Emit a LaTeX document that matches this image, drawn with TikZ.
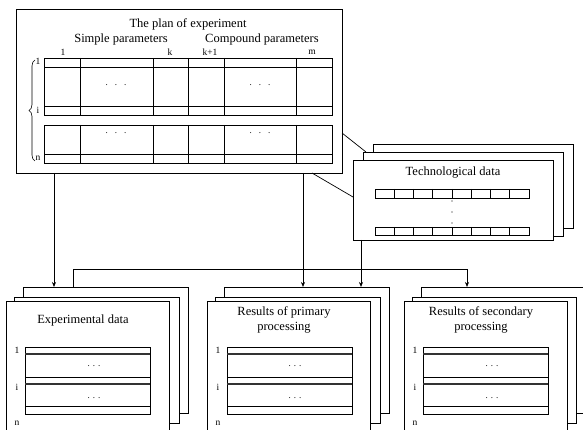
\documentclass[tikz,border=0pt]{standalone}
\usepackage{fontspec}
\setmainfont{Liberation Serif}
\usetikzlibrary{arrows.meta,decorations.pathreplacing}
\begin{document}
\begin{tikzpicture}[x=1pt,y=-1pt,
  frame/.style={draw, fill=white, line width=0.8pt, anchor=north west, inner sep=0pt, outer sep=0pt},
  ttl/.style={font=\fontsize{12.5}{14.5}\selectfont, align=center, inner sep=0pt},
  sm/.style={font=\fontsize{9.5}{11}\selectfont, inner sep=0pt},
  dt/.style={font=\fontsize{9}{10}\selectfont, inner sep=0pt},
  arr/.style={-{Stealth[length=5pt,width=4pt]}, line width=0.7pt},
  ln/.style={line width=0.7pt},
  grid/.style={line width=0.8pt},
  thk/.style={line width=1.5pt, draw=black!80}
]
\useasboundingbox (0,0) rectangle (583,430);
\clip (0,0) rectangle (583,430);

% ---------- plan of experiment ----------
\node[frame, minimum width=326pt, minimum height=164pt] (plan) at (16,9) {};
\node[ttl] (tplan) at (188,24) {The plan of experiment};
\node[ttl] (tsimple) at (121,39) {Simple parameters};
\node[ttl] (tcomp) at (262,39) {Compound parameters};
\node[sm] (c1) at (63,52) {1};
\node[sm] (ck) at (170,52) {k};
\node[sm] (ck1) at (210,52) {k+1};
\node[sm] (cm) at (312,52) {m};
% table block 1
\draw[grid] (44,58) rectangle (332,115);
\draw[grid] (44,67) -- (332,67) (44,106) -- (332,106);
% table block 2
\draw[grid] (44,125) rectangle (332,163);
\draw[grid] (44,154) -- (332,154);
\foreach \x in {80,153,188,224,296}{
  \draw[grid] (\x,58) -- (\x,115);
  \draw[grid] (\x,125) -- (\x,163);
}
\node[dt] (d1) at (116,85) {.\hspace{7pt}.\hspace{7pt}.};
\node[dt] (d2) at (260,85) {.\hspace{7pt}.\hspace{7pt}.};
\node[dt] (d3) at (116,133) {.\hspace{7pt}.\hspace{7pt}.};
\node[dt] (d4) at (260,133) {.\hspace{7pt}.\hspace{7pt}.};
\draw[line width=0.6pt, decorate, decoration={brace, amplitude=6pt}] (35,161) -- (35,60);
\node[sm] (r1) at (38,61) {1};
\node[sm] (ri) at (38,110) {i};
\node[sm] (rn) at (38,158) {n};

% ---------- technological data ----------
\node[frame, minimum width=200pt, minimum height=84pt] (techC) at (373,144) {};
\node[frame, minimum width=200pt, minimum height=84pt] (techB) at (363,152) {};
\node[frame, minimum width=200pt, minimum height=80pt] (techA) at (353,160) {};
\node[ttl] (ttech) at (453,173) {Technological data};
\draw[grid] (375,189) rectangle (529,198);
\draw[grid] (375,227) rectangle (529,235);
\foreach \i in {1,...,7}{
  \draw[grid] (375+19.25*\i,189) -- (375+19.25*\i,198);
  \draw[grid] (375+19.25*\i,227) -- (375+19.25*\i,235);
}
\foreach \y in {201,212,223}{ \fill (452,\y) circle (0.6pt); }

% ---------- bottom stacks ----------
% experimental
\node[frame, minimum width=165pt, minimum height=126pt] (expC) at (23,287) {};
\node[frame, minimum width=165pt, minimum height=126pt] (expB) at (14,297) {};
\node[frame, minimum width=163pt, minimum height=140pt] (expA) at (6,301) {};
% primary
\node[frame, minimum width=165pt, minimum height=126pt] (primC) at (224,287) {};
\node[frame, minimum width=165pt, minimum height=126pt] (primB) at (215,297) {};
\node[frame, minimum width=163pt, minimum height=140pt] (primA) at (207,301) {};
% secondary
\node[frame, minimum width=165pt, minimum height=126pt] (secC) at (421,287) {};
\node[frame, minimum width=164pt, minimum height=126pt] (secB) at (412,297) {};
\node[frame, minimum width=163pt, minimum height=140pt] (secA) at (404,301) {};

\node[ttl] (texp) at (83,320) {Experimental data};
\node[ttl] (tprim) at (284,320) {Results of primary\\processing};
\node[ttl] (tsec) at (481,320) {Results of secondary\\processing};

\foreach \L/\R/\lx/\dx/\nm in {25/150/17/94/e, 227/352/218/295/p, 423/548/415/492/s}{
  \draw[grid] (\L,347) rectangle (\R,414);
  \draw[grid] (\L,377) -- (\R,377) (\L,406) -- (\R,406);
  \draw[thk] (\L,354) -- (\R,354) (\L,384) -- (\R,384);
  \node[sm] (l1\nm) at (\lx,350) {1};
  \node[sm] (li\nm) at (\lx,387) {i};
  \node[sm] (ln\nm) at (\lx,423) {n};
  \node[dt] (da\nm) at (\dx,366) {.\hspace{3pt}.\hspace{3pt}.};
  \node[dt] (db\nm) at (\dx,398) {.\hspace{3pt}.\hspace{3pt}.};
}

% ---------- connectors ----------
\draw[ln] ([yshift=-124pt]plan.north east) -- ([xshift=3pt]techB.north west);
\draw[ln] ([xshift=296pt]plan.south west) -- ([yshift=-37pt]techA.north west);
\draw[arr] ([xshift=38pt]plan.south west) -- ([xshift=31pt]expC.north west);
\draw[arr] ([xshift=287pt]plan.south west) -- ([xshift=79pt]primC.north west);
\draw[arr] ([xshift=8pt]techA.south west) -- ([xshift=137pt]primC.north west);
\draw[arr] ([xshift=50pt]expC.north west) -- ++(0,-18) -| ([xshift=46pt]secC.north west);
\end{tikzpicture}
\end{document}
